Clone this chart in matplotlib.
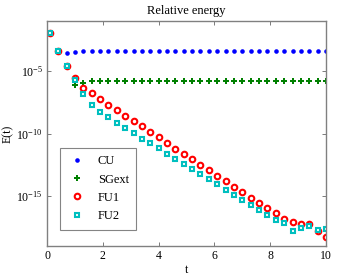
import numpy as np
import matplotlib
matplotlib.use("Agg")
import matplotlib.pyplot as plt
from matplotlib.ticker import FixedLocator, NullLocator

plt.rcParams['font.family'] = ['Liberation Serif', 'DejaVu Serif']
plt.rcParams['mathtext.fontset'] = 'custom'
plt.rcParams['mathtext.rm'] = 'Liberation Serif'
plt.rcParams['mathtext.it'] = 'Liberation Serif:italic'
plt.rcParams['font.size'] = 8.5

t = np.round(0.1 + 0.3 * np.arange(34), 2)

# log10 of relative energy
cu_log = [-1.93, -3.29, -3.53, -3.48, -3.42] + [-3.4] * 29
sg_log = [-1.93, -3.4, -4.6, -6.09, -5.96] + [-5.82] * 29
fu1_log = [-1.93, -3.4, -4.6, -5.56, -6.33, -6.73, -7.26, -7.69, -8.12, -8.57,
           -8.97, -9.42, -9.9, -10.3, -10.76, -11.2, -11.6, -12.06, -12.5, -12.94,
           -13.37, -13.8, -14.25, -14.7, -15.13, -15.56, -16.0, -16.4, -16.84, -17.05,
           -17.26, -17.26, -17.8, -18.28]
fu2_log = [-1.93, -3.4, -4.6, -5.74, -6.86, -7.72, -8.25, -8.68, -9.13, -9.56,
           -9.98, -10.4, -10.78, -11.18, -11.6, -12.0, -12.4, -12.84, -13.26, -13.66,
           -14.06, -14.49, -14.89, -15.32, -15.72, -16.12, -16.52, -16.92, -17.13, -17.8,
           -17.53, -17.37, -17.69, -17.61]

fig = plt.figure(figsize=(3.6, 2.77), dpi=100)
ax = fig.add_axes([0.1306, 0.112, 0.775, 0.812])

ax.semilogy(t, 10.0 ** np.array(cu_log), 'o', color=(0, 0, 1), ms=3.3, mew=0, label='CU')
ax.semilogy(t, 10.0 ** np.array(sg_log), 'P', color=(0, 0.5, 0), ms=3.8, mew=0, label='SGext')
ax.semilogy(t, 10.0 ** np.array(fu1_log), 'o', color=(1, 0, 0), mfc='white', ms=4.0, mew=1.5, label='FU1')
ax.semilogy(t, 10.0 ** np.array(fu2_log), 's', color=(0, 0.75, 0.75), mfc='white', ms=3.5, mew=1.5, label='FU2')

ax.set_xlim(0, 10)
ax.set_ylim(1e-19, 1e-1)
ax.set_xticks([0, 2, 4, 6, 8, 10])
ax.yaxis.set_major_locator(FixedLocator([1e-15, 1e-10, 1e-5]))
ax.yaxis.set_minor_locator(NullLocator())
ax.tick_params(direction='in', top=True, right=True, length=3, width=0.6, color='0.4', pad=3)
for s in ax.spines.values():
    s.set_color('0.5')
    s.set_linewidth(1.0)

ax.set_title('Relative energy', fontsize=9, pad=5)
ax.set_xlabel('t', labelpad=1)
ax.set_ylabel('E(t)', labelpad=2)

leg = ax.legend(loc='lower left', bbox_to_anchor=(0.025, 0.045), fancybox=False, edgecolor='0.4',
                fontsize=9, labelspacing=0.5, handletextpad=0.9, borderpad=0.6, handlelength=1.5)
leg.get_frame().set_linewidth(0.8)

fig.savefig('out.png', dpi=100)
